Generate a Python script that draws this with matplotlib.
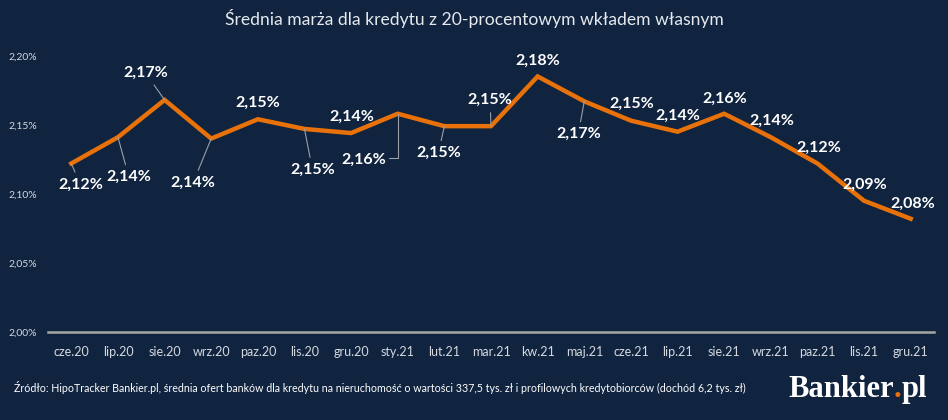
import matplotlib
matplotlib.use("Agg")
import matplotlib.pyplot as plt

categories = ["cze.20", "lip.20", "sie.20", "wrz.20", "paz.20", "lis.20", "gru.20",
              "sty.21", "lut.21", "mar.21", "kw.21", "maj.21", "cze.21", "lip.21",
              "sie.21", "wrz.21", "paz.21", "lis.21", "gru.21"]
values = [2.122, 2.141, 2.168, 2.140, 2.154, 2.147, 2.144, 2.158, 2.149, 2.149,
          2.185, 2.167, 2.153, 2.145, 2.158, 2.141, 2.122, 2.095, 2.082]
point_labels = ["2,12%", "2,14%", "2,17%", "2,14%", "2,15%", "2,15%", "2,14%",
                "2,16%", "2,15%", "2,15%", "2,18%", "2,17%", "2,15%", "2,14%",
                "2,16%", "2,14%", "2,12%", "2,09%", "2,08%"]
yticks = [2.00, 2.05, 2.10, 2.15, 2.20]
ytick_labels = ["2,00%", "2,05%", "2,10%", "2,15%", "2,20%"]

title = "Średnia marża dla kredytu z 20-procentowym wkładem własnym"
source = ("Źródło: HipoTracker Bankier.pl, średnia ofert banków dla kredytu na nieruchomość "
          "o wartości 337,5 tys. zł i profilowych kredytobiorców (dochód 6,2 tys. zł)")

# label offsets in pixels (dx, dy; dy positive = up)
label_offsets = [(9, -21), (11, -40), (-19, 27), (-18, -44), (0, 16), (8, -41),
                 (1, 16), (-34, -46), (-6, -27), (-1, 26), (0, 16), (-6, -33),
                 (1, 17), (0, 16), (1, 15), (1, 16), (1, 16), (1, 16), (2, 15)]
leaders = [True, True, True, True, False, True, False, True, True, True, False,
           True, False, False, False, False, False, False, False]

BG = "#10233F"
ORANGE = "#E8710A"
FONT = ["Lato", "DejaVu Sans"]

fig = plt.figure(figsize=(9.48, 4.2), dpi=100, facecolor=BG)
ax = fig.add_axes([48 / 948, 1 - 332 / 420, 886 / 948, (332 - 55.7) / 420])
ax.set_facecolor(BG)

x = list(range(len(categories)))
ax.plot(x, values, color=ORANGE, lw=3.2, solid_joinstyle="miter", zorder=3)
ax.set_xlim(-0.5, len(categories) - 0.5)
ax.set_ylim(2.00, 2.20)

for s in ["top", "right", "left"]:
    ax.spines[s].set_visible(False)
ax.spines["bottom"].set_color("#A6A6A6")
ax.spines["bottom"].set_linewidth(1.8)

ax.set_yticks(yticks)
ax.set_yticklabels(ytick_labels, family=FONT, fontsize=7.5, color="#D5D9DF")
ax.set_xticks(x)
ax.set_xticklabels(categories, family=FONT, fontsize=9, color="#D5D9DF")
ax.tick_params(axis="both", length=0)
ax.tick_params(axis="x", pad=10)
ax.tick_params(axis="y", pad=8)

for i, (v, lab) in enumerate(zip(values, point_labels)):
    dx, dy = label_offsets[i]
    kw = {}
    if leaders[i]:
        if i == 7:
            kw["arrowprops"] = dict(arrowstyle="-", color="#9AA0A8", lw=0.8,
                                    shrinkA=0, shrinkB=0, relpos=(1.0, 0.6),
                                    connectionstyle="angle,angleA=0,angleB=90,rad=0")
        else:
            kw["arrowprops"] = dict(arrowstyle="-", color="#9AA0A8", lw=0.8,
                                    shrinkA=2, shrinkB=0)
    ax.annotate(lab, xy=(i, v), xytext=(dx, dy), textcoords="offset pixels",
                ha="center", va="center", fontsize=11.5, fontweight="bold",
                family=FONT, color="white", zorder=4, **kw)

fig.text(0.5, 1 - 19 / 420, title, ha="center", va="center", family=FONT,
         fontsize=12.6, color="#E6E9ED")
fig.text(14 / 948, 1 - 388 / 420, source, ha="left", va="center", family=FONT,
         fontsize=7.65, color="white")

base_y = 1 - 397 / 420
t1 = fig.text(788 / 948, base_y, "Bankier", ha="left", va="baseline",
              family="Liberation Serif", fontweight="bold", fontsize=22, color="white")
t2 = fig.text(0, 0, ".", transform=None, family="Liberation Serif",
              fontweight="bold", fontsize=22, color=ORANGE, va="baseline")
fig.canvas.draw()
r = fig.canvas.get_renderer()
bb = t1.get_window_extent(r)
t2.set_position((bb.x1, fig.bbox.height * base_y))
fig.canvas.draw()
bb2 = t2.get_window_extent(r)
fig.text(bb2.x1, fig.bbox.height * base_y, "pl", transform=None,
         va="baseline", family="Liberation Serif", fontweight="bold",
         fontsize=22, color="white")

fig.savefig("out.png", dpi=100, facecolor=BG)
